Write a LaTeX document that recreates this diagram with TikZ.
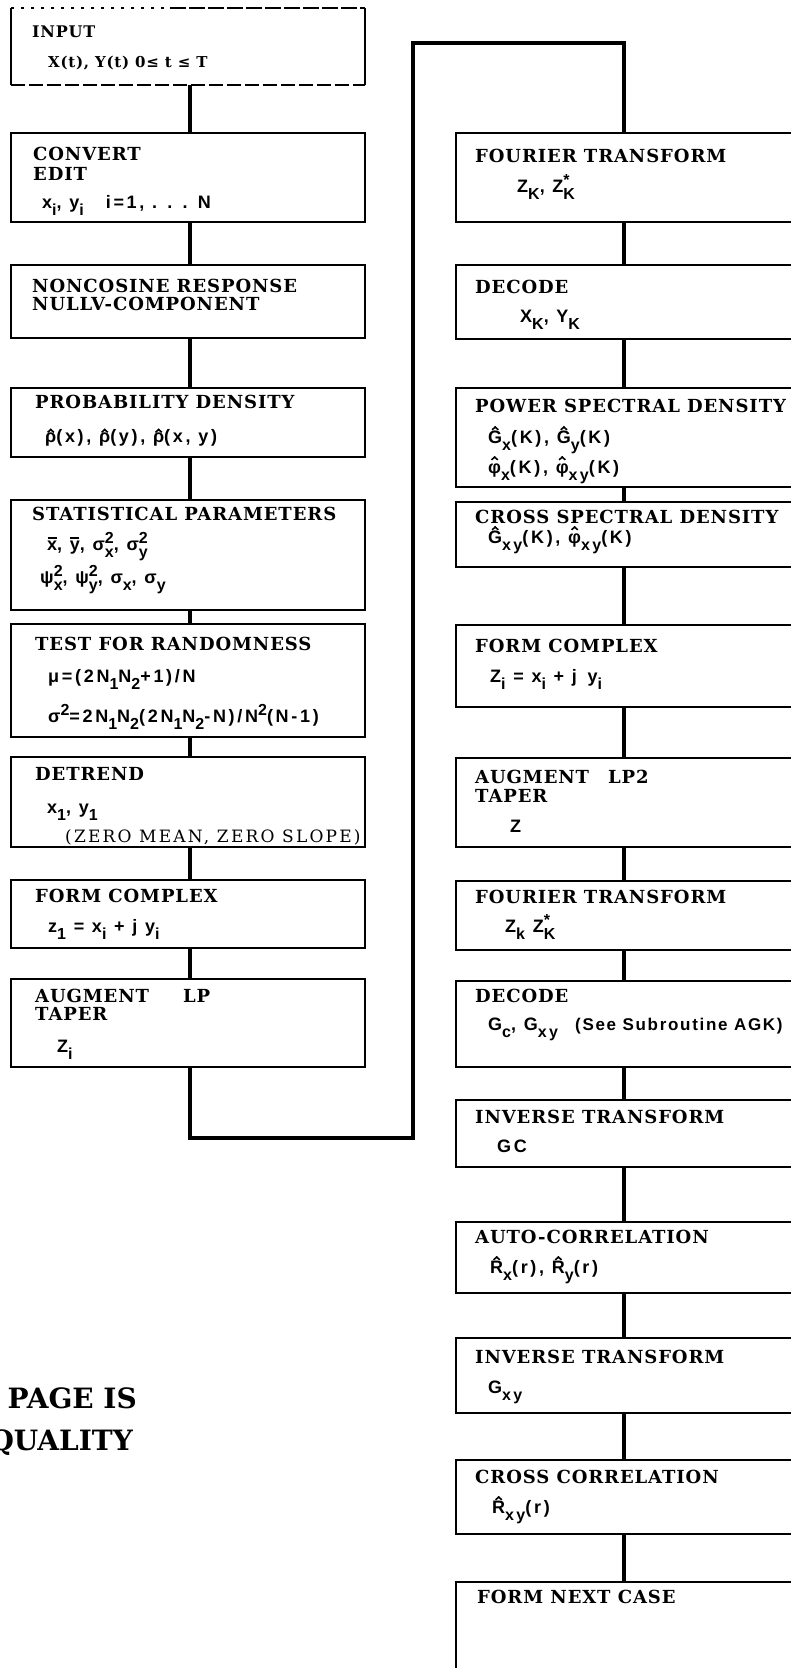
\documentclass[tikz,border=0pt]{standalone}
\usepackage{fontspec}
\usetikzlibrary{calc}
\newfontfamily\tfont[LetterSpace=5]{DejaVu Serif}
\newfontfamily\lfont[LetterSpace=13]{DejaVu Serif}
\newfontfamily\ffont[LetterSpace=15]{Liberation Sans}
\newfontfamily\gfont[LetterSpace=10]{Liberation Sans}
\newfontfamily\pfont{DejaVu Serif}
\newcommand\sbs[1]{\raisebox{-7pt}{\fontsize{16}{16}\selectfont #1}}
\newcommand\sps[1]{\raisebox{7pt}{\fontsize{16}{16}\selectfont #1}}
\newcommand\ssp[2]{\ooalign{\sbs{#1}\cr\sps{#2}\cr}}
\newcommand\hatmark{\rotatebox[origin=c]{40}{\rule{5pt}{1.6pt}}\kern-2.4pt\rotatebox[origin=c]{-40}{\rule{5pt}{1.6pt}}}
\newcommand\hatc[2][14pt]{\ooalign{#2\cr\hfil\raisebox{#1}{\hatmark}\hfil\cr}}
\newcommand\barc[1]{\ooalign{#1\cr\hfil\rule[11.5pt]{9pt}{2pt}\hfil\cr}}
\tikzset{
  box/.style={draw, line width=2.6pt, anchor=north west, inner sep=0pt, outer sep=0pt},
  edge/.style={line width=2.6pt},
  conn/.style={line width=4.8pt},
  ttl/.style={anchor=base west, inner sep=0pt, font=\tfont\bfseries\fontsize{18}{18}\selectfont},
  ttls/.style={anchor=base west, inner sep=0pt, font=\tfont\bfseries\fontsize{16}{16}\selectfont},
  txt/.style={anchor=base west, inner sep=0pt, font=\lfont\fontsize{17}{17}\selectfont},
  fml/.style={anchor=base west, inner sep=0pt, font=\ffont\bfseries\fontsize{18}{18}\selectfont},
  fmls/.style={anchor=base west, inner sep=0pt, font=\tfont\bfseries\fontsize{15}{15}\selectfont},
  note/.style={anchor=base west, inner sep=0pt, font=\gfont\bfseries\fontsize{17}{17}\selectfont},
  stamp/.style={anchor=base east, inner sep=0pt, font=\pfont\bfseries\fontsize{28}{28}\selectfont},
}
\begin{document}
\begin{tikzpicture}[x=1pt,y=-1pt]
\useasboundingbox (0,0) rectangle (790,1668);
\fill[white] (0,0) rectangle (790,1668);
% ---------- left column boxes ----------
\node[minimum width=354pt, minimum height=77pt, anchor=north west, inner sep=0pt, outer sep=0pt] (L1) at (11,8) {};
\coordinate (L1m) at ($(L1.north west)!0.45!(L1.north east)$);
\draw[edge] (L1.north west) -- (L1.south west);
\draw[edge] (L1.north east) -- (L1.south east);
\draw[edge, dash pattern=on 3pt off 7pt] (L1.north west) -- (L1m);
\draw[edge, dash pattern=on 16pt off 3pt] (L1m) -- (L1.north east);
\draw[edge, dash pattern=on 14pt off 4pt] (L1.south west) -- (L1.south east);
\node[box, minimum width=354pt, minimum height=89pt] (L2) at (11,133) {};
\node[box, minimum width=354pt, minimum height=73pt] (L3) at (11,265) {};
\node[box, minimum width=354pt, minimum height=69pt] (L4) at (11,388) {};
\node[box, minimum width=354pt, minimum height=110pt] (L5) at (11,500) {};
\node[box, minimum width=354pt, minimum height=113pt] (L6) at (11,624) {};
\node[box, minimum width=354pt, minimum height=90pt] (L7) at (11,757) {};
\node[box, minimum width=354pt, minimum height=68pt] (L8) at (11,880) {};
\node[box, minimum width=354pt, minimum height=88pt] (L9) at (11,979) {};
% ---------- right column boxes ----------
\node[box, minimum width=400pt, minimum height=89pt] (R1) at (456,133) {};
\node[box, minimum width=400pt, minimum height=74pt] (R2) at (456,265) {};
\node[box, minimum width=400pt, minimum height=99pt] (R3) at (456,388) {};
\node[box, minimum width=400pt, minimum height=65pt] (R4) at (456,502) {};
\node[box, minimum width=400pt, minimum height=82pt] (R5) at (456,625) {};
\node[box, minimum width=400pt, minimum height=89pt] (R6) at (456,758) {};
\node[box, minimum width=400pt, minimum height=69pt] (R7) at (456,881) {};
\node[box, minimum width=400pt, minimum height=86pt] (R8) at (456,981) {};
\node[box, minimum width=400pt, minimum height=67pt] (R9) at (456,1100) {};
\node[box, minimum width=400pt, minimum height=71pt] (R10) at (456,1222) {};
\node[box, minimum width=400pt, minimum height=75pt] (R11) at (456,1338) {};
\node[box, minimum width=400pt, minimum height=74pt] (R12) at (456,1460) {};
\node[box, minimum width=400pt, minimum height=140pt] (R13) at (456,1582) {};
% ---------- connectors ----------
\coordinate (lx) at (190,0);
\draw[conn] (L1.south -| lx) -- (L2.north -| lx);
\draw[conn] (L2.south -| lx) -- (L3.north -| lx);
\draw[conn] (L3.south -| lx) -- (L4.north -| lx);
\draw[conn] (L4.south -| lx) -- (L5.north -| lx);
\draw[conn] (L5.south -| lx) -- (L6.north -| lx);
\draw[conn] (L6.south -| lx) -- (L7.north -| lx);
\draw[conn] (L7.south -| lx) -- (L8.north -| lx);
\draw[conn] (L8.south -| lx) -- (L9.north -| lx);
\coordinate (rx) at (624,0);
\coordinate (fbA) at (413,1138);
\coordinate (fbB) at (624,43);
\draw[conn, line join=miter] (L9.south -| lx) |- (fbA) -- (fbA |- fbB) -- (fbB) -- (R1.north -| fbB);
\draw[conn] (R1.south -| rx) -- (R2.north -| rx);
\draw[conn] (R2.south -| rx) -- (R3.north -| rx);
\draw[conn] (R3.south -| rx) -- (R4.north -| rx);
\draw[conn] (R4.south -| rx) -- (R5.north -| rx);
\draw[conn] (R5.south -| rx) -- (R6.north -| rx);
\draw[conn] (R6.south -| rx) -- (R7.north -| rx);
\draw[conn] (R7.south -| rx) -- (R8.north -| rx);
\draw[conn] (R8.south -| rx) -- (R9.north -| rx);
\draw[conn] (R9.south -| rx) -- (R10.north -| rx);
\draw[conn] (R10.south -| rx) -- (R11.north -| rx);
\draw[conn] (R11.south -| rx) -- (R12.north -| rx);
\draw[conn] (R12.south -| rx) -- (R13.north -| rx);
% ---------- left column texts ----------
\node[ttls] (tL1a) at (32,37) {INPUT};
\node[fmls] (tL1b) at (48,67) {X(t), Y(t) 0≤ t ≤ T};
\node[ttl] (tL2a) at (33,160) {CONVERT};
\node[ttl] (tL2b) at (33,180) {EDIT};
\node[fml] (tL2c) at (42,208) {x\sbs{i}, y\sbs{i}\hspace{22pt}i=1, . . . N};
\node[ttl] (tL3a) at (32,292) {NONCOSINE RESPONSE};
\node[ttl] (tL3b) at (32,310) {NULLV-COMPONENT};
\node[ttl] (tL4a) at (35,408) {PROBABILITY DENSITY};
\node[fml] (tL4b) at (45,442) {\hatc[10.5pt]{ρ}(x), \hatc[10.5pt]{ρ}(y), \hatc[10.5pt]{ρ}(x, y)};
\node[ttl] (tL5a) at (32,520) {STATISTICAL PARAMETERS};
\node[fml] (tL5b) at (47,550) {\barc{x}, \barc{y}, σ\ssp{x}{2}, σ\ssp{y}{2}};
\node[fml] (tL5c) at (40,583) {ψ\ssp{x}{2}, ψ\ssp{y}{2}, σ\sbs{x}, σ\sbs{y}};
\node[ttl] (tL6a) at (35,650) {TEST FOR RANDOMNESS};
\node[fml] (tL6b) at (48,682) {μ=(2N\sbs{1}N\sbs{2}+1)/N};
\node[fml] (tL6c) at (48,722) {σ\sps{2}=2N\sbs{1}N\sbs{2}(2N\sbs{1}N\sbs{2}-N)/N\sps{2}(N-1)};
\node[ttl] (tL7a) at (35,780) {DETREND};
\node[fml] (tL7b) at (47,813) {x\sbs{1}, y\sbs{1}};
\node[txt] (tL7c) at (65,842) {(ZERO MEAN, ZERO SLOPE)};
\node[ttl] (tL8a) at (35,902) {FORM COMPLEX};
\node[fml] (tL8b) at (48,932) {z\sbs{1} = x\sbs{i} + j y\sbs{i}};
\node[ttl] (tL9a) at (35,1002) {AUGMENT};
\node[ttl] (tL9b) at (183,1002) {LP};
\node[ttl] (tL9c) at (35,1020) {TAPER};
\node[fml] (tL9d) at (57,1052) {Z\sbs{i}};
% ---------- right column texts ----------
\node[ttl] (tR1a) at (475,162) {FOURIER TRANSFORM};
\node[fml] (tR1b) at (517,192) {Z\sbs{K}, Z\ssp{K}{*}};
\node[ttl] (tR2a) at (475,293) {DECODE};
\node[fml] (tR2b) at (520,322) {X\sbs{K}, Y\sbs{K}};
\node[ttl] (tR3a) at (475,412) {POWER SPECTRAL DENSITY};
\node[fml] (tR3b) at (488,443) {\hatc{G}\sbs{x}(K), \hatc{G}\sbs{y}(K)};
\node[fml] (tR3c) at (488,473) {\hatc{φ}\sbs{x}(K), \hatc{φ}\sbs{xy}(K)};
\node[ttl] (tR4a) at (475,523) {CROSS SPECTRAL DENSITY};
\node[fml] (tR4b) at (488,543) {\hatc{G}\sbs{xy}(K), \hatc{φ}\sbs{xy}(K)};
\node[ttl] (tR5a) at (475,652) {FORM COMPLEX};
\node[fml] (tR5b) at (490,682) {Z\sbs{i} = x\sbs{i} + j\, y\sbs{i}};
\node[ttl] (tR6a) at (475,783) {AUGMENT};
\node[ttl] (tR6b) at (608,783) {LP2};
\node[ttl] (tR6c) at (475,802) {TAPER};
\node[fml] (tR6d) at (510,832) {Z};
\node[ttl] (tR7a) at (475,903) {FOURIER TRANSFORM};
\node[fml] (tR7b) at (505,932) {Z\sbs{k} Z\ssp{K}{*}};
\node[ttl] (tR8a) at (475,1002) {DECODE};
\node[fml] (tR8b) at (488,1030) {G\sbs{c}, G\sbs{xy}};
\node[note] (tR8c) at (575,1030) {(See Subroutine AGK)};
\node[ttl] (tR9a) at (475,1123) {INVERSE TRANSFORM};
\node[fml] (tR9b) at (497,1152) {GC};
\node[ttl] (tR10a) at (475,1243) {AUTO-CORRELATION};
\node[fml] (tR10b) at (490,1273) {\hatc{R}\sbs{x}(r), \hatc{R}\sbs{y}(r)};
\node[ttl] (tR11a) at (475,1363) {INVERSE TRANSFORM};
\node[fml] (tR11b) at (488,1393) {G\sbs{xy}};
\node[ttl] (tR12a) at (475,1483) {CROSS CORRELATION};
\node[fml] (tR12b) at (492,1513) {\hatc{R}\sbs{xy}(r)};
\node[ttl] (tR13a) at (477,1603) {FORM NEXT CASE};
% ---------- stamp ----------
\node[stamp] (st1) at (137,1408) {PAGE IS};
\node[stamp] (st2) at (133,1450) {QUALITY};
\end{tikzpicture}
\end{document}
